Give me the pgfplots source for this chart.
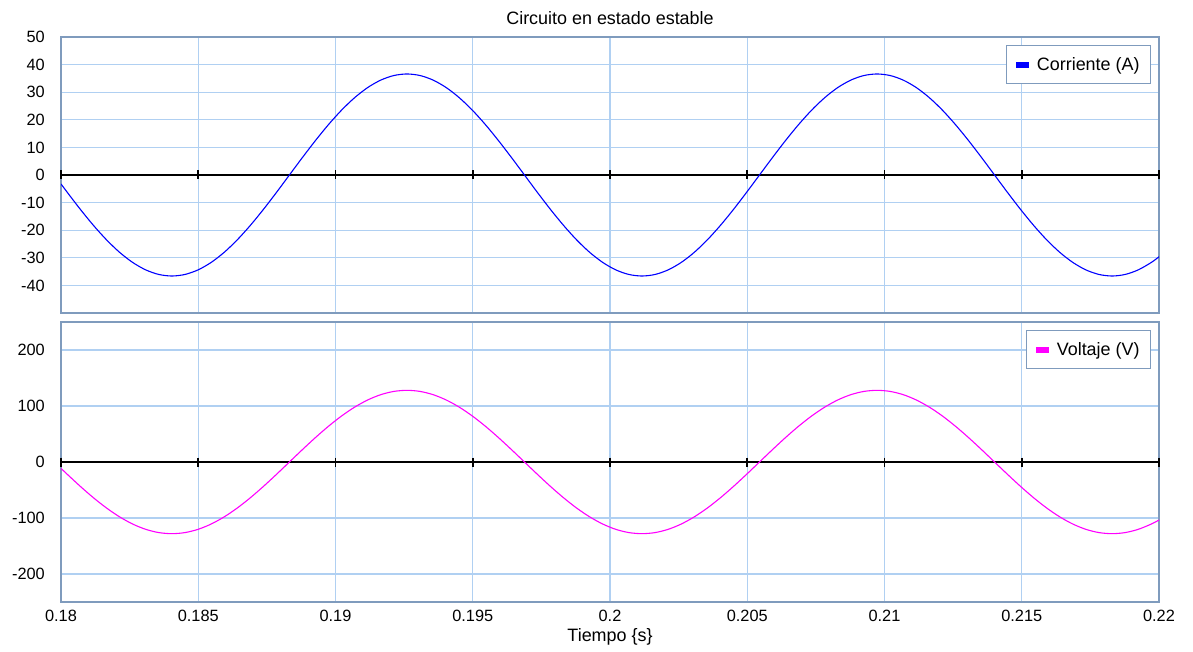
\documentclass[border=0pt]{standalone}
\usepackage{fontspec}
\setmainfont{Liberation Sans}
\usepackage{pgfplots}
\usepackage{pgfplotstable}
\pgfplotsset{compat=1.18}
\definecolor{framec}{HTML}{7F9BBD}
\definecolor{gridc}{HTML}{B0D0F2}
\definecolor{curblue}{HTML}{0000FF}
\definecolor{volmag}{HTML}{FF00FF}

\pgfplotstableread{
t i v
0.180000 -3.25 -11.38
0.180234 -6.36 -22.23
0.180710 -12.52 -43.78
0.181186 -18.30 -64.00
0.181662 -23.53 -82.28
0.182137 -28.04 -98.05
0.182613 -31.70 -110.85
0.183089 -34.39 -120.28
0.183564 -36.04 -126.06
0.184040 -36.60 -128.00
0.184516 -36.04 -126.06
0.184991 -34.39 -120.28
0.185467 -31.70 -110.85
0.185943 -28.04 -98.05
0.186418 -23.53 -82.28
0.186894 -18.30 -64.00
0.187370 -12.52 -43.78
0.187846 -6.36 -22.23
0.188321 0 0
0.188797 6.36 22.23
0.189273 12.52 43.78
0.189748 18.30 64.00
0.190224 23.53 82.28
0.190700 28.04 98.05
0.191175 31.70 110.85
0.191651 34.39 120.28
0.192127 36.04 126.06
0.192602 36.60 128.00
0.193078 36.04 126.06
0.193554 34.39 120.28
0.194029 31.70 110.85
0.194505 28.04 98.05
0.194981 23.53 82.28
0.195457 18.30 64.00
0.195932 12.52 43.78
0.196408 6.36 22.23
0.196884 0 0
0.197359 -6.36 -22.23
0.197835 -12.52 -43.78
0.198311 -18.30 -64.00
0.198786 -23.53 -82.28
0.199262 -28.04 -98.05
0.199738 -31.70 -110.85
0.200213 -34.39 -120.28
0.200689 -36.04 -126.06
0.201165 -36.60 -128.00
0.201641 -36.04 -126.06
0.202116 -34.39 -120.28
0.202592 -31.70 -110.85
0.203068 -28.04 -98.05
0.203543 -23.53 -82.28
0.204019 -18.30 -64.00
0.204495 -12.52 -43.78
0.204970 -6.36 -22.23
0.205446 0 0
0.205922 6.36 22.23
0.206397 12.52 43.78
0.206873 18.30 64.00
0.207349 23.53 82.28
0.207825 28.04 98.05
0.208300 31.70 110.85
0.208776 34.39 120.28
0.209252 36.04 126.06
0.209727 36.60 128.00
0.210203 36.04 126.06
0.210679 34.39 120.28
0.211154 31.70 110.85
0.211630 28.04 98.05
0.212106 23.53 82.28
0.212581 18.30 64.00
0.213057 12.52 43.78
0.213533 6.36 22.23
0.214008 0 0
0.214484 -6.36 -22.23
0.214960 -12.52 -43.78
0.215436 -18.30 -64.00
0.215911 -23.53 -82.28
0.216387 -28.04 -98.05
0.216863 -31.70 -110.85
0.217338 -34.39 -120.28
0.217814 -36.04 -126.06
0.218290 -36.60 -128.00
0.218765 -36.04 -126.06
0.219241 -34.39 -120.28
0.219717 -31.70 -110.85
0.220000 -29.63 -103.60
}\data

\pgfplotsset{
  legend image code/.code={\fill[#1,draw=none] (0bp,-3bp) rectangle (13bp,3bp); \path[draw=none,fill=none] (-2bp,-8bp) rectangle (17bp,8bp);},
  base/.style={
    scale only axis,
    width=1098bp,
    xmin=0.18, xmax=0.22,
    xtick={0.18,0.185,0.19,0.195,0.2,0.205,0.21,0.215,0.22},
    scaled ticks=false,
    grid=major,
    major grid style={gridc, line width=1.1bp},
    axis line style={framec, line width=1.3bp},
    major tick length=0pt,
    tick style={draw=none},
    /pgf/number format/assume math mode=true,
    tick label style={font=\fontsize{16.4}{19}\selectfont},
    yticklabel style={inner sep=0pt, anchor=east, xshift=-16bp},
    xticklabel style={inner sep=0pt, anchor=north, yshift=-8bp},
    legend cell align=left,
    legend style={at={(1,1)}, anchor=north east, xshift=-8bp, yshift=-8bp,
      draw=framec, line width=0.9bp, fill=white,
      font=\fontsize{18}{21}\selectfont,
      inner xsep=7bp, inner ysep=5bp,
      nodes={inner xsep=4bp, inner ysep=7bp}},
  },
  zeroline/.style={black, line width=1.5bp, mark=|, mark size=4.5bp,
    mark options={solid, line width=1.8bp, black}, forget plot},
}

\begin{document}
\begin{tikzpicture}
\path[use as bounding box] (0,0) rectangle (1193bp,652bp);

\begin{axis}[base,
  at={(61bp,339bp)}, anchor=south west,
  height=276bp,
  ymin=-50, ymax=50,
  ytick={-40,-30,-20,-10,0,10,20,30,40,50},
  xticklabels={},
]
\addplot[zeroline]
  coordinates {(0.18,0) (0.185,0) (0.19,0) (0.195,0) (0.2,0) (0.205,0) (0.21,0) (0.215,0) (0.22,0)};
\addplot[curblue, line width=1.1bp, smooth] table[x=t, y=i] {\data};
\addlegendentry{Corriente (A)}
\end{axis}

\begin{axis}[base,
  at={(61bp,50bp)}, anchor=south west,
  height=280bp,
  ymin=-250, ymax=250,
  ytick={-200,-100,0,100,200},
  xticklabels={0.18,0.185,0.19,0.195,0.2,0.205,0.21,0.215,0.22},
  xlabel={Tiempo \{s\}},
  xlabel style={font=\fontsize{18}{21}\selectfont, at={(axis description cs:0.5,0)}, anchor=center, yshift=-35bp},
]
\addplot[zeroline]
  coordinates {(0.18,0) (0.185,0) (0.19,0) (0.195,0) (0.2,0) (0.205,0) (0.21,0) (0.215,0) (0.22,0)};
\addplot[volmag, line width=1.1bp, smooth] table[x=t, y=v] {\data};
\addlegendentry{Voltaje (V)}
\end{axis}

\node[font=\fontsize{18}{21}\selectfont] at (610bp,634bp) {Circuito en estado estable};
\end{tikzpicture}
\end{document}
